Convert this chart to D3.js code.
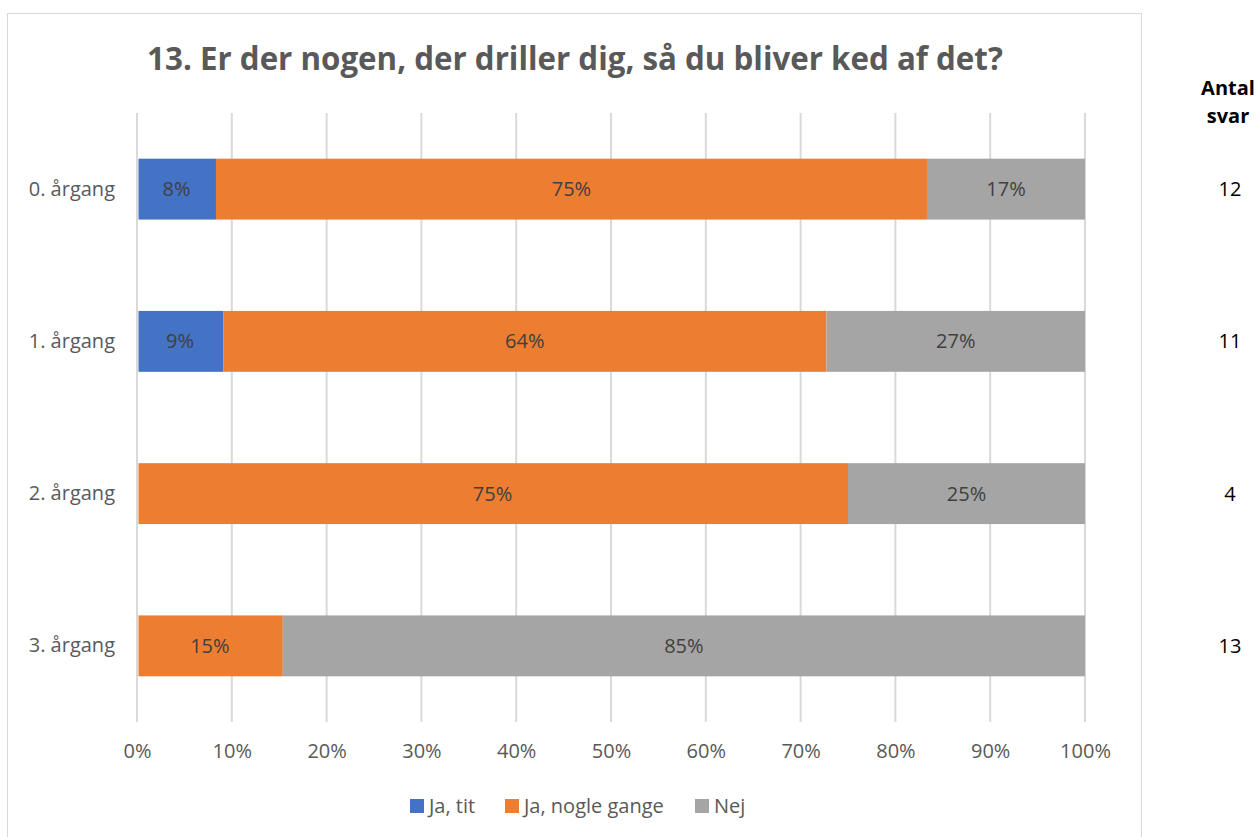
<!DOCTYPE html>
<html>
<head>
<meta charset="utf-8">
<script src="https://cdn.jsdelivr.net/npm/d3@7"></script>
<style>
  body { margin: 0; background: #fff; }
  text { font-family: "Open Sans", "Noto Sans", sans-serif; }
</style>
</head>
<body>
<svg id="chart" width="1259" height="837"></svg>
<script>
const categories = ["0. årgang", "1. årgang", "2. årgang", "3. årgang"];
const seriesNames = ["Ja, tit", "Ja, nogle gange", "Nej"];
const jaTit = [8.33, 9.09, 0, 0];
const jaNogle = [75, 63.64, 75, 15.38];
const nej = [16.67, 27.27, 25, 84.62];
const antalSvar = [12, 11, 4, 13];
const ticks = [0, 10, 20, 30, 40, 50, 60, 70, 80, 90, 100];
const colors = ["#4472C4", "#ED7D31", "#A5A5A5"];

const svg = d3.select("#chart");

// chart frame
svg.append("rect")
    .attr("x", 7.5).attr("y", 13.5)
    .attr("width", 1134).attr("height", 840)
    .attr("fill", "#fff").attr("stroke", "#d9d9d9");

svg.append("text")
    .attr("x", 575).attr("y", 70)
    .attr("text-anchor", "middle")
    .attr("font-size", 31.3).attr("font-weight", "bold")
    .attr("fill", "#595959")
    .text("13. Er der nogen, der driller dig, så du bliver ked af det?");

const x = d3.scaleLinear().domain([0, 100]).range([137, 1085]);
const y = d3.scaleBand().domain(categories).range([113, 722])
    .paddingInner(0.6).paddingOuter(0.3);

// gridlines
svg.append("g").selectAll("line")
    .data(ticks).enter().append("line")
    .attr("x1", d => x(d)).attr("x2", d => x(d))
    .attr("y1", 113).attr("y2", 722)
    .attr("stroke", "#d9d9d9").attr("stroke-width", 2);

// stacked bars
const rows = categories.map((c, i) => ({cat: c, values: [jaTit[i], jaNogle[i], nej[i]]}));
const segs = [];
rows.forEach(r => {
    let acc = 0;
    r.values.forEach((v, k) => {
        segs.push({cat: r.cat, k: k, x0: acc, x1: acc + v, v: v});
        acc += v;
    });
});

svg.append("g").selectAll("rect")
    .data(segs.filter(d => d.v > 0)).enter().append("rect")
    .attr("x", d => x(d.x0) + (d.x0 === 0 ? 1.5 : 0))
    .attr("width", d => x(d.x1) - x(d.x0) - (d.x0 === 0 ? 1.5 : 0))
    .attr("y", d => y(d.cat))
    .attr("height", y.bandwidth())
    .attr("fill", d => colors[d.k]);

svg.append("g").selectAll("text")
    .data(segs.filter(d => d.v > 0)).enter().append("text")
    .attr("x", d => (x(d.x0) + x(d.x1)) / 2)
    .attr("y", d => y(d.cat) + y.bandwidth() / 2)
    .attr("dy", "0.35em")
    .attr("text-anchor", "middle")
    .attr("font-size", 20)
    .attr("fill", "#404040")
    .text(d => Math.round(d.v) + "%");

// y axis labels
const yAxis = svg.append("g")
    .attr("transform", "translate(124,0)")
    .call(d3.axisLeft(y).tickSize(0).tickPadding(9));
yAxis.select(".domain").remove();
yAxis.selectAll("text")
    .attr("font-size", 20).attr("fill", "#595959")
    .attr("font-family", "'Open Sans', sans-serif")
    .attr("x", -9);

// x axis labels
const xAxis = svg.append("g")
    .attr("transform", "translate(0,722)")
    .call(d3.axisBottom(x).tickValues(ticks).tickSize(0).tickPadding(22)
        .tickFormat(d => d + "%"));
xAxis.select(".domain").remove();
xAxis.selectAll("text")
    .attr("font-size", 20).attr("fill", "#595959")
    .attr("font-family", "'Open Sans', sans-serif");

// legend
const legendX = [410, 505, 695];
const legend = svg.append("g").selectAll("g")
    .data(seriesNames).enter().append("g")
    .attr("transform", (d, i) => `translate(${legendX[i]},799)`);
legend.append("rect")
    .attr("width", 14).attr("height", 14)
    .attr("fill", (d, i) => colors[i]);
legend.append("text")
    .attr("x", 19).attr("y", 7).attr("dy", "0.35em")
    .attr("font-size", 20).attr("fill", "#595959")
    .text(d => d);

// Antal svar column
svg.append("text")
    .attr("x", 1228).attr("y", 95)
    .attr("text-anchor", "middle")
    .attr("font-size", 20).attr("font-weight", "bold").attr("fill", "#000")
    .text("Antal");
svg.append("text")
    .attr("x", 1228).attr("y", 123)
    .attr("text-anchor", "middle")
    .attr("font-size", 20).attr("font-weight", "bold").attr("fill", "#000")
    .text("svar");
svg.append("g").selectAll("text")
    .data(antalSvar).enter().append("text")
    .attr("x", 1230)
    .attr("y", (d, i) => y(categories[i]) + y.bandwidth() / 2)
    .attr("dy", "0.35em")
    .attr("text-anchor", "middle")
    .attr("font-size", 20).attr("fill", "#000")
    .text(d => d);
</script>
</body>
</html>
